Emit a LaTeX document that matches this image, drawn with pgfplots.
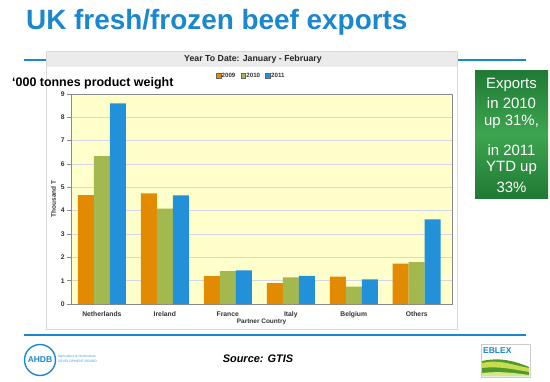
\documentclass[border=0pt]{standalone}
\usepackage{pgfplots}
\pgfplotsset{compat=1.18}
\usepackage{fontspec}
\setmainfont{Liberation Sans}
\definecolor{titleblue}{HTML}{1B87CF}
\definecolor{c2009}{HTML}{E38B00}
\definecolor{c2010}{HTML}{A3B84E}
\definecolor{c2011}{HTML}{2391D9}
\definecolor{bgyellow}{HTML}{FFFFCC}
\definecolor{gridc}{HTML}{D5D5EA}
\definecolor{axisgray}{HTML}{8A8A8A}
\definecolor{labelc}{HTML}{333333}
\definecolor{boxdark}{HTML}{1F7A34}
\definecolor{boxlight}{HTML}{3DA54F}
\definecolor{ebgreen}{HTML}{4E9A2A}
\definecolor{eblight}{HTML}{C8DC50}
\pgfplotsset{sqlegend/.style={legend image code/.code={\draw[##1,draw=black!60,line width=0.3bp] (0bp,-2.3bp) rectangle (4.6bp,2.3bp);}}}
\begin{document}
\begin{tikzpicture}[x=1bp,y=1bp]
\path[use as bounding box, fill=white] (0,0) rectangle (550,381);
% title
\node[anchor=base west, inner sep=0, text=titleblue, font=\fontsize{28}{30}\selectfont\bfseries] at (26,352) {UK fresh/frozen beef exports};
\fill[titleblue] (24,320) rectangle (526,322);
% chart panel
\fill[white] (46,52) rectangle (457,330);
\fill[black!8] (46,314) rectangle (457,330);
\draw[black!15, line width=0.6bp] (46,52) rectangle (457,330);
\node[font=\fontsize{8.8}{10}\selectfont\bfseries, text=black!85] at (253,322) {Year To Date: January - February};
\node[anchor=base west, inner sep=0, font=\fontsize{12.5}{14}\selectfont\bfseries] at (12,295) {‘000 tonnes product weight};
\begin{axis}[
  at={(71bp,77bp)}, anchor=south west,
  scale only axis, width=381bp, height=210bp,
  ybar=0pt, bar width=16bp,
  xmin=-0.49, xmax=5.56, ymin=0, ymax=9,
  xtick={0,1,2,3,4,5},
  xticklabels={Netherlands,Ireland,France,Italy,Belgium,Others},
  ytick={0,1,2,3,4,5,6,7,8,9},
  axis background/.style={fill=bgyellow},
  ymajorgrids, grid style={gridc, line width=0.7bp},
  axis line style={draw=axisgray, line width=0.7bp},
  xtick style={draw=none},
  ytick style={draw=axisgray, line width=0.6bp},
  tick align=outside, major tick length=4bp,
  ytick pos=left, xtick pos=bottom,
  tick label style={font=\fontsize{6.8}{8}\selectfont\bfseries, text=labelc},
  yticklabel style={xshift=1.2bp},
  /pgf/number format/assume math mode=true,
  ylabel={Thousand T}, xlabel={Partner Country},
  label style={font=\fontsize{6.5}{8}\selectfont\bfseries, text=labelc},
  ylabel style={at={(axis description cs:-0.046,0.5)}, anchor=center, inner sep=0pt},
  xlabel style={at={(axis description cs:0.5,-0.086)}, anchor=center},
  legend columns=3,
  legend style={at={(axis description cs:0.38,1.086)}, anchor=west, draw=none, fill=none,
    font=\fontsize{6.2}{7}\selectfont\bfseries, inner sep=0pt,
    nodes={inner sep=0.8bp, text=labelc},
    /tikz/every even column/.append style={column sep=4.5bp}},
]
\addplot[fill=c2009, draw=none, sqlegend] coordinates {(0,4.67) (1,4.74) (2,1.19) (3,0.89) (4,1.17) (5,1.73)};
\addplot[fill=c2010, draw=none, sqlegend] coordinates {(0,6.34) (1,4.09) (2,1.41) (3,1.14) (4,0.74) (5,1.79)};
\addplot[fill=c2011, draw=none, sqlegend] coordinates {(0,8.60) (1,4.66) (2,1.44) (3,1.21) (4,1.06) (5,3.63)};
\legend{2009,2010,2011}
\end{axis}
% green box
\shade[top color=boxdark, bottom color=boxdark, middle color=boxlight] (475,183) rectangle (548,311);
\begin{scope}[every node/.style={text=white, font=\fontsize{15}{17}\selectfont, inner sep=0}]
\node at (511.5,296) {Exports};
\node at (511.5,278) {in 2010};
\node at (511.5,259) {up 31\%,};
\node at (511.5,231) {in 2011};
\node at (511.5,213) {YTD up};
\node at (511.5,194) {33\%};
\end{scope}
% footer
\fill[titleblue] (24,45) rectangle (526,47);
\node[font=\fontsize{11}{12}\selectfont\bfseries\itshape] at (258,22) {Source: GTIS};
% AHDB logo
\draw[titleblue, line width=1.4bp] (40,21) circle (15.5);
\node[text=titleblue, font=\fontsize{8.5}{9}\selectfont\bfseries, inner sep=0] at (40,21) {AHDB};
\node[anchor=west, text=titleblue!80, font=\fontsize{3.4}{4}\selectfont, inner sep=0] at (58,24.5) {Agriculture \& Horticulture};
\node[anchor=west, text=titleblue!80, font=\fontsize{3.4}{4}\selectfont, inner sep=0] at (58,19.5) {DEVELOPMENT BOARD};
% EBLEX logo
\fill[white] (481,4) rectangle (530,37);
\draw[black!20, line width=0.5bp] (481,4) rectangle (530,37);
\fill[ebgreen] (482,5) -- (482,20) .. controls (500,24) and (515,20) .. (529,14) -- (529,5) -- cycle;
\fill[eblight] (482,18) .. controls (500,22) and (512,16) .. (529,13) -- (529,9) .. controls (512,12) and (498,15) .. (482,13) -- cycle;
\fill[eblight!70] (482,8) .. controls (500,10) and (515,8) .. (529,6) -- (529,5) -- (482,5) -- cycle;
\node[anchor=west, text=titleblue, font=\fontsize{8.5}{9}\selectfont\bfseries, inner sep=0] at (483,30) {EBLEX};
\end{tikzpicture}
\end{document}
